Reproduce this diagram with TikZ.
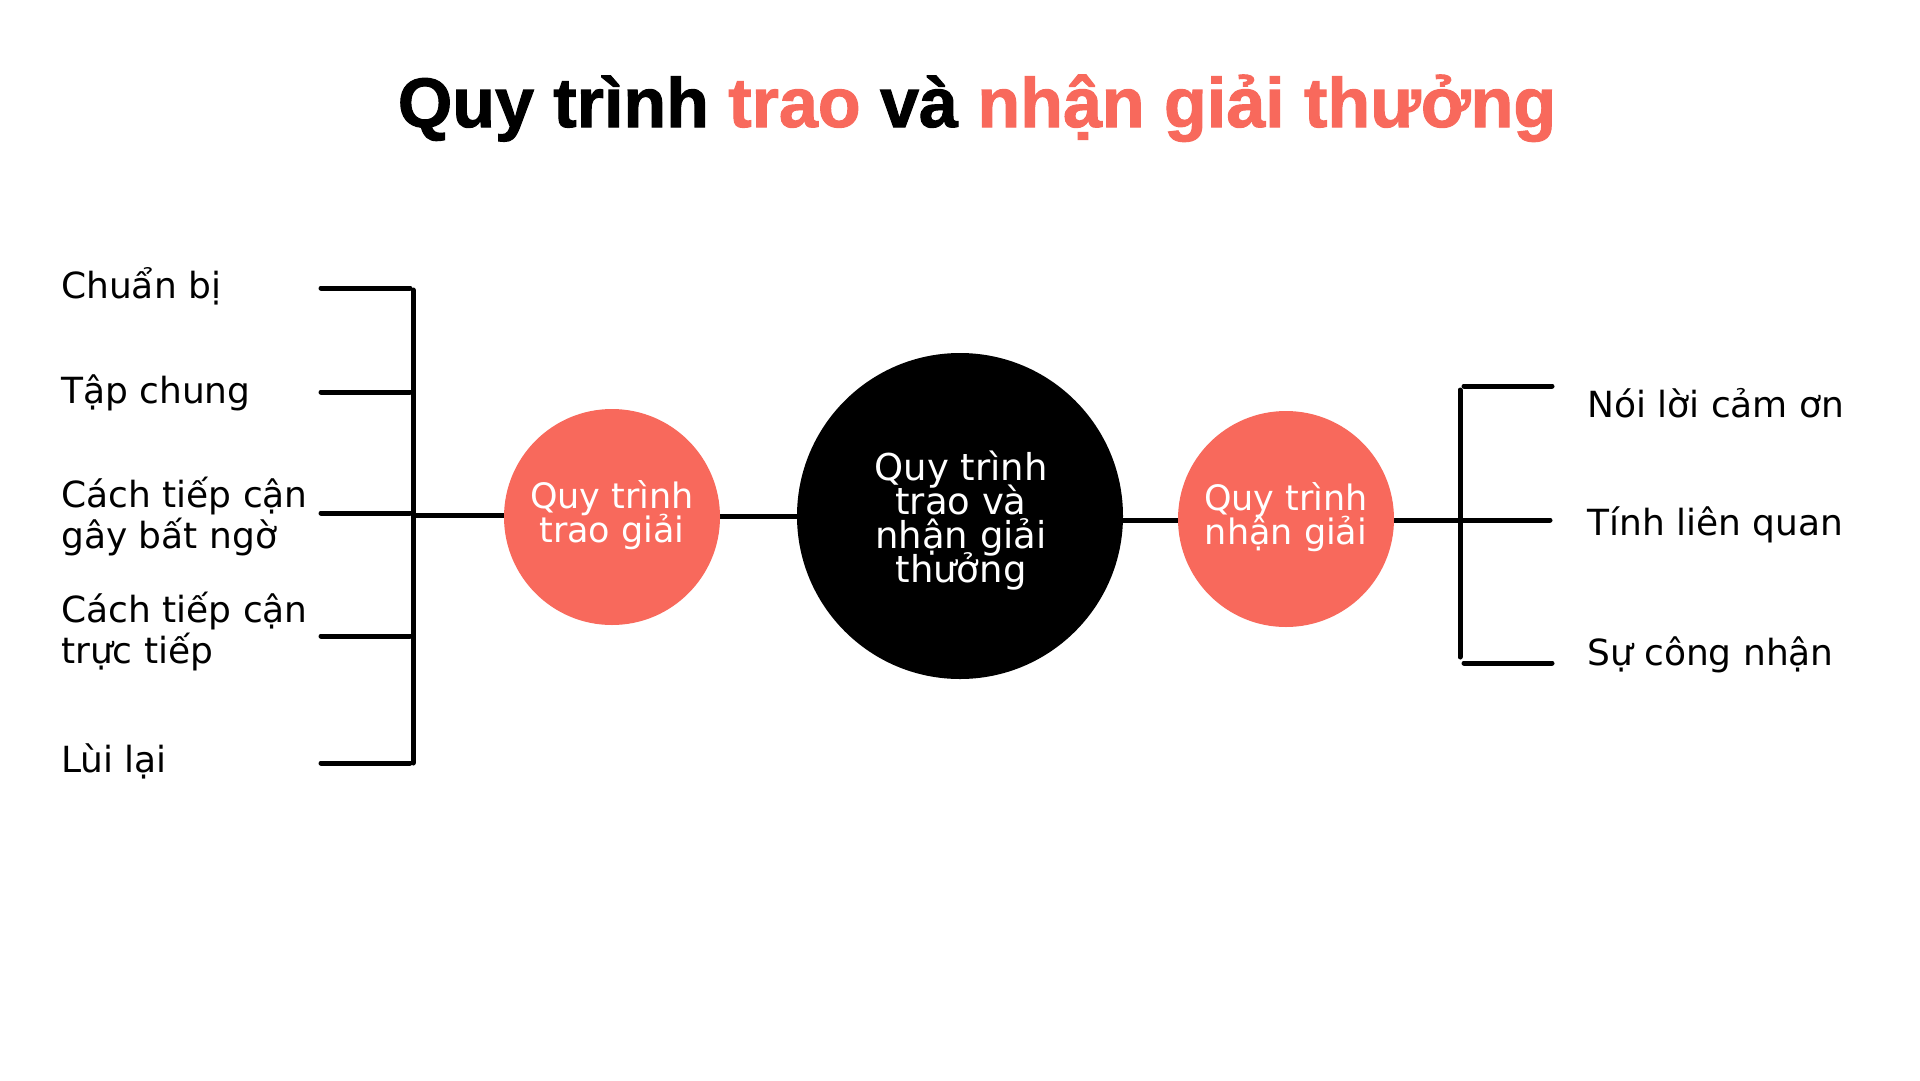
\documentclass[tikz,border=0pt]{standalone}
\usepackage{fontspec}
\setmainfont{DejaVu Sans}
\newfontfamily\titlefont{Liberation Sans}[BoldFeatures={FakeBold=1.5}]
\usetikzlibrary{calc}
\definecolor{coral}{HTML}{F8695C}
\pgfdeclarelayer{background}
\pgfsetlayers{background,main}
\begin{document}
\begin{tikzpicture}[x=1pt,y=-1pt,
  bar/.style={line width=5pt,line cap=round,black},
  lab/.style={anchor=base west,inner sep=0pt,font=\fontsize{36}{40}\selectfont},
  ctext/.style={anchor=base,inner sep=0pt,text=white,font=\fontsize{35}{38}\selectfont},
  btext/.style={anchor=base,inner sep=0pt,text=white,font=\fontsize{37}{40}\selectfont},
  smallcirc/.style={circle,fill=coral,minimum size=216pt,inner sep=0pt},
  bigcirc/.style={circle,fill=black,minimum size=326pt,inner sep=0pt}]
\useasboundingbox (0,0) rectangle (1920,1080);

% title
\node[anchor=base,inner sep=0pt,font=\titlefont\bfseries\fontsize{70}{80}\selectfont] (title) at (977,127)
  {Quy trình \textcolor{coral}{trao} và \textcolor{coral}{nhận giải thưởng}};

% circles
\node[smallcirc] (L) at (612,517) {};
\node[bigcirc] (C) at (960,516) {};
\node[smallcirc] (R) at (1286,519) {};

% circle texts
\node[ctext] (L1) at (612,508) {Quy trình};
\node[ctext] (L2) at (612,542) {trao giải};
\node[btext] (C1) at (961,480) {Quy trình};
\node[btext] (C2) at (961,514) {trao và};
\node[btext] (C3) at (961,548) {nhận giải};
\node[btext] (C4) at (961,582) {thưởng};
\node[ctext] (R1) at (1286,510) {Quy trình};
\node[ctext] (R2) at (1286,544) {nhận giải};

% left labels
\node[lab] (a1) at (61,298) {Chuẩn bị};
\node[lab] (a2) at (61,403) {Tập chung};
\node[lab] (a3) at (61,507) {Cách tiếp cận};
\node[lab] (a3b) at (61,548) {gây bất ngờ};
\node[lab] (a4) at (61,622) {Cách tiếp cận};
\node[lab] (a4b) at (61,663) {trực tiếp};
\node[lab] (a5) at (61,772) {Lùi lại};

% right labels
\node[lab] (b1) at (1587,417) {Nói lời cảm ơn};
\node[lab] (b2) at (1587,535) {Tính liên quan};
\node[lab] (b3) at (1587,665) {Sự công nhận};

% left bracket coordinates
\coordinate (lt1) at (321,288); \coordinate (lt2) at (321,392);
\coordinate (lt3) at (321,513); \coordinate (lt4) at (321,636);
\coordinate (lt5) at (321,763);
\coordinate (lbtop) at (413,290); \coordinate (lbbot) at (413,763);
\coordinate (lbmid) at (413,515);
% right bracket coordinates
\coordinate (rt1) at (1552,386); \coordinate (rt2) at (1550,520);
\coordinate (rt3) at (1552,663);
\coordinate (rbtop) at (1460,390); \coordinate (rbbot) at (1460,657);
\coordinate (rbmid) at (1460,520);

\begin{pgfonlayer}{background}
\fill[white] (0,0) rectangle (1920,1080);
\foreach \t in {lt1,lt2,lt3,lt4,lt5}
  \draw[bar] (\t) -- ($(\t -| lbtop)+(-3,0)$);
\draw[bar] (lbtop) -- (lbbot);
\draw[bar,line cap=butt] (lbmid) -- (lbmid -| L.center);
\draw[bar,line cap=butt] (L.center |- 0,516) -- (C.center |- 0,516);
\draw[bar,line cap=butt] (C.center |- 0,520) -- (R.center |- 0,520);
\draw[bar,line cap=butt] (R.center |- rbmid) -- (rbmid);
\draw[bar] (rbtop) -- (rbbot);
\draw[bar] (rbmid) -- (rt2);
\draw[bar] ($(rbtop)+(4,-4)$) -- (rt1);
\draw[bar] ($(rbbot)+(4,6)$) -- (rt3);
\end{pgfonlayer}
\end{tikzpicture}
\end{document}
